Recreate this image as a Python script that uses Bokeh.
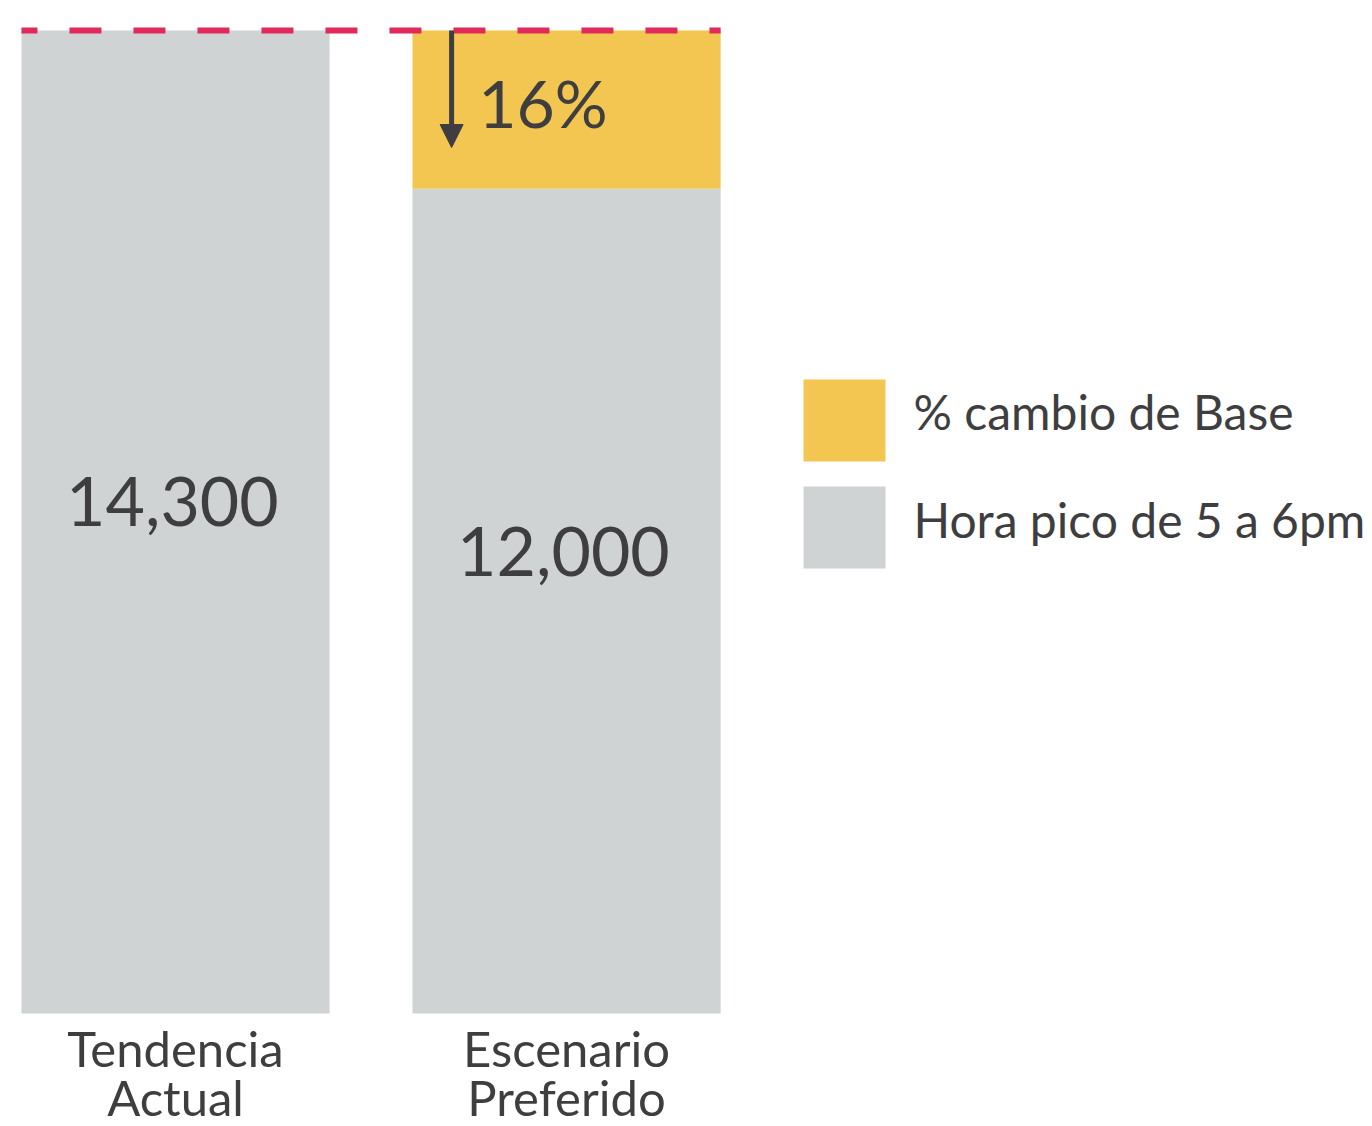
from bokeh.plotting import figure
from bokeh.models import ColumnDataSource, Range1d, Arrow, NormalHead, BoxAnnotation, Label
from bokeh.core.properties import value
from bokeh.embed import file_html
from bokeh.resources import INLINE

# ---- data ----
categories = ["Tendencia Actual", "Escenario Preferido"]
cat_line1 = ["Tendencia", "Escenario"]
cat_line2 = ["Actual", "Preferido"]
peak_hour = [14300, 12000]          # Hora pico de 5 a 6pm
change_from_base = [0, 2300]        # % cambio de Base
series_names = ["% cambio de Base", "Hora pico de 5 a 6pm"]

GREY = "#CFD3D4"
YELLOW = "#F3C651"
RED = "#E02A59"
TXT = "#3E3E40"
FONT = "Lato"

xs = [0, 1]
bar_w = 0.788
base_total = peak_hour[0]
pct = round(100 * change_from_base[1] / base_total)

src = ColumnDataSource(dict(x=xs, cat=categories, base=peak_hour, change=change_from_base,
                            l1=cat_line1, l2=cat_line2,
                            lbl=[f"{v:,}" for v in peak_hour],
                            lbl_x=[x - 0.008 for x in xs],
                            lbl_y=[peak_hour[0] * 0.521, peak_hour[1] * 0.560]))

p = figure(width=1372, height=1126, output_backend="svg", toolbar_location=None,
           x_range=Range1d(-0.4476, 3.061), y_range=Range1d(-1644, 14737),
           x_axis_location=None, y_axis_location=None, min_border=0)
p.outline_line_color = None
p.grid.visible = False
p.background_fill_color = "white"
p.border_fill_color = "white"

rs = p.vbar_stack(["base", "change"], x="x", width=bar_w, color=[GREY, YELLOW],
                  line_color=None, source=src)

# dashed baseline reference
p.line(x=[xs[0] - bar_w / 2, xs[1] + bar_w / 2], y=[base_total, base_total],
       line_color=RED, line_width=6, line_dash="32 32", line_dash_offset=16)

# arrow showing reduction
ax = xs[1] - bar_w / 2 + 0.1
p.add_layout(Arrow(x_start=ax, y_start=base_total, x_end=ax,
                   y_end=base_total - 0.74 * change_from_base[1],
                   line_color=TXT, line_width=5,
                   end=NormalHead(size=23, fill_color=TXT, line_color=TXT, line_width=1)))

p.text(x=[xs[1] - bar_w / 2 + 0.168], y=[base_total - 0.455 * change_from_base[1]],
       text=[f"{pct}%"], text_font=value(FONT), text_font_size="66px",
       text_color=TXT, text_align="left", text_baseline="alphabetic")

# value labels
p.text(x="lbl_x", y="lbl_y", text="lbl", source=src, text_font=value(FONT),
       text_font_size="68px", text_color=TXT, text_align="center",
       text_baseline="alphabetic")

# category labels
p.text(x="x", y=-505, text="l1", source=src, text_font=value(FONT),
       text_font_size="49px", text_color=TXT, text_align="center",
       text_baseline="alphabetic")
p.text(x="x", y=-1215, text="l2", source=src, text_font=value(FONT),
       text_font_size="49px", text_color=TXT, text_align="center",
       text_baseline="alphabetic")

# legend (screen-positioned swatches and labels)
legend_colors = [YELLOW, GREY]
for i, (name, col) in enumerate(zip(series_names, legend_colors)):
    top = 747 - i * 107
    p.add_layout(BoxAnnotation(left=803, right=885, top=top, bottom=top - 82,
                               left_units="screen", right_units="screen",
                               top_units="screen", bottom_units="screen",
                               fill_color=col, fill_alpha=1.0, line_color=None))
    p.add_layout(Label(x=913, y=715 - i * 108, x_units="screen", y_units="screen",
                       text=name, text_font=FONT, text_font_size="48px",
                       text_color=TXT, text_align="left", text_baseline="middle"))

open("out.html", "w").write(file_html(p, INLINE))
